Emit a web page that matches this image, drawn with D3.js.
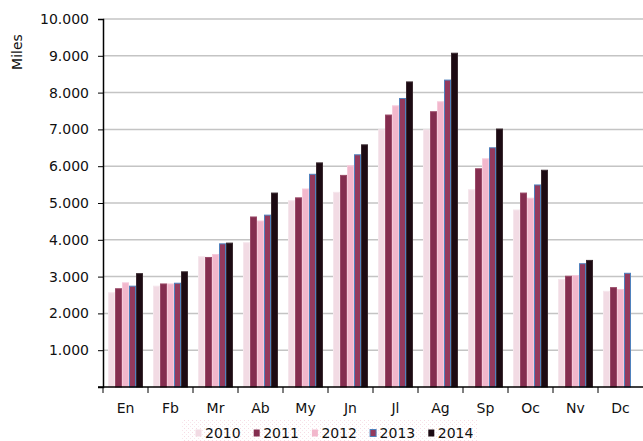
<!DOCTYPE html>
<html>
<head>
<meta charset="utf-8">
<script src="https://d3js.org/d3.v7.min.js"></script>
<style>
  body { margin: 0; background: #fff; }
  text { font-family: "DejaVu Sans", Verdana, sans-serif; fill: #111; }
</style>
</head>
<body>
<svg id="chart"></svg>
<script>
// data (Miles per month)
var months = ["En", "Fb", "Mr", "Ab", "My", "Jn", "Jl", "Ag", "Sp", "Oc", "Nv", "Dc"];
var years = ["2010", "2011", "2012", "2013", "2014"];
var v2010 = [2560, 2740, 3540, 3920, 5060, 5290, 6990, 6990, 5360, 4810, 2920, 2600];
var v2011 = [2670, 2800, 3520, 4620, 5140, 5750, 7390, 7480, 5930, 5270, 3010, 2700];
var v2012 = [2830, 2800, 3600, 4510, 5380, 6010, 7640, 7750, 6200, 5130, 3030, 2650];
var v2013 = [2740, 2820, 3890, 4670, 5780, 6310, 7840, 8340, 6500, 5490, 3350, 3090];
var v2014 = [3080, 3130, 3910, 5270, 6090, 6580, 8290, 9070, 7010, 5890, 3440, null];
var yTicks = [1000, 2000, 3000, 4000, 5000, 6000, 7000, 8000, 9000, 10000];

var series = [v2010, v2011, v2012, v2013, v2014];
var fills = ["#f2dbe4", "#842d4f", "#f2b7cc", "#933a5d", "#1c0a12"];
var strokes = ["#f5e6ec", "#9a4a68", "#f6cadb", "#4f81bd", "#3a2a30"];

var W = 643, H = 441;
var margin = {top: 19, right: 0, bottom: 54, left: 103};

var svg = d3.select("#chart").attr("width", W).attr("height", H);

var y = d3.scaleLinear()
    .domain([0, 10000])
    .range([H - margin.bottom, margin.top]);

var x0 = d3.scaleBand()
    .domain(months)
    .range([margin.left, W - margin.right]);

var x1 = d3.scaleBand()
    .domain(years)
    .range([5, x0.bandwidth() - 5]);

// gridlines
svg.append("g")
  .selectAll("line")
  .data(yTicks)
  .join("line")
    .attr("x1", margin.left)
    .attr("x2", W)
    .attr("y1", d => y(d))
    .attr("y2", d => y(d))
    .attr("stroke", "#c4c4c4")
    .attr("stroke-width", 1.5);

// bars
var rows = [];
months.forEach((m, i) => {
  series.forEach((s, k) => {
    if (s[i] != null) rows.push({month: m, year: years[k], k: k, value: s[i]});
  });
});

svg.append("g")
  .selectAll("rect")
  .data(rows)
  .join("rect")
    .attr("x", d => x0(d.month) + x1(d.year) + 0.5)
    .attr("width", x1.bandwidth() - 1)
    .attr("y", d => y(d.value))
    .attr("height", d => y(0) - y(d.value))
    .attr("fill", d => fills[d.k])
    .attr("stroke", d => strokes[d.k])
    .attr("stroke-width", 1);

// y axis
var yAxis = svg.append("g")
    .attr("transform", `translate(${margin.left},0)`)
    .call(d3.axisLeft(y).tickValues([0].concat(yTicks)).tickSize(5).tickPadding(9)
      .tickFormat(d => d === 0 ? "" : d3.format(",")(d).replace(/,/g, ".")));
yAxis.select(".domain").attr("stroke", "#000").attr("stroke-width", 1.5);
yAxis.selectAll(".tick line").attr("stroke", "#000");
yAxis.selectAll("text").style("font-size", "14px").attr("fill", "#111")
    .style("font-family", '"DejaVu Sans", Verdana, sans-serif');

// x axis
var xAxis = svg.append("g")
    .attr("transform", `translate(0,${y(0)})`);
xAxis.append("line")
    .attr("x1", margin.left - 5)
    .attr("x2", W)
    .attr("stroke", "#000")
    .attr("stroke-width", 1.5);
xAxis.selectAll("line.tk")
  .data(months)
  .join("line")
    .attr("class", "tk")
    .attr("x1", d => x0(d))
    .attr("x2", d => x0(d))
    .attr("y1", 0)
    .attr("y2", 6)
    .attr("stroke", "#000");
xAxis.selectAll("text")
  .data(months)
  .join("text")
    .attr("x", d => x0(d) + x0.bandwidth() / 2)
    .attr("y", 26)
    .attr("text-anchor", "middle")
    .style("font-size", "14px")
    .text(d => d);

// axis title
svg.append("text")
    .attr("transform", "rotate(-90)")
    .attr("x", -52)
    .attr("y", 22)
    .attr("text-anchor", "middle")
    .style("font-size", "14px")
    .text("Miles");

// legend
var defs = svg.append("defs");
var pat = defs.append("pattern")
    .attr("id", "dots")
    .attr("width", 4)
    .attr("height", 4)
    .attr("patternUnits", "userSpaceOnUse");
pat.append("rect").attr("width", 1).attr("height", 1).attr("fill", "#f6dbe4");
pat.append("rect").attr("x", 2).attr("y", 2).attr("width", 1).attr("height", 1).attr("fill", "#f9e6ec");

svg.append("rect")
    .attr("x", 182)
    .attr("y", 420)
    .attr("width", 296)
    .attr("height", 21)
    .attr("fill", "url(#dots)");

var legend = svg.append("g")
  .selectAll("g")
  .data(years)
  .join("g")
    .attr("transform", (d, i) => `translate(${195 + i * 58.2},0)`);

legend.append("rect")
    .attr("x", 0.5)
    .attr("y", 429.5)
    .attr("width", 6)
    .attr("height", 7)
    .attr("fill", (d, i) => fills[i])
    .attr("stroke", (d, i) => i === 3 ? "#4f81bd" : "none");

legend.append("text")
    .attr("x", 10)
    .attr("y", 438)
    .style("font-size", "14px")
    .text(d => d);
</script>
</body>
</html>
